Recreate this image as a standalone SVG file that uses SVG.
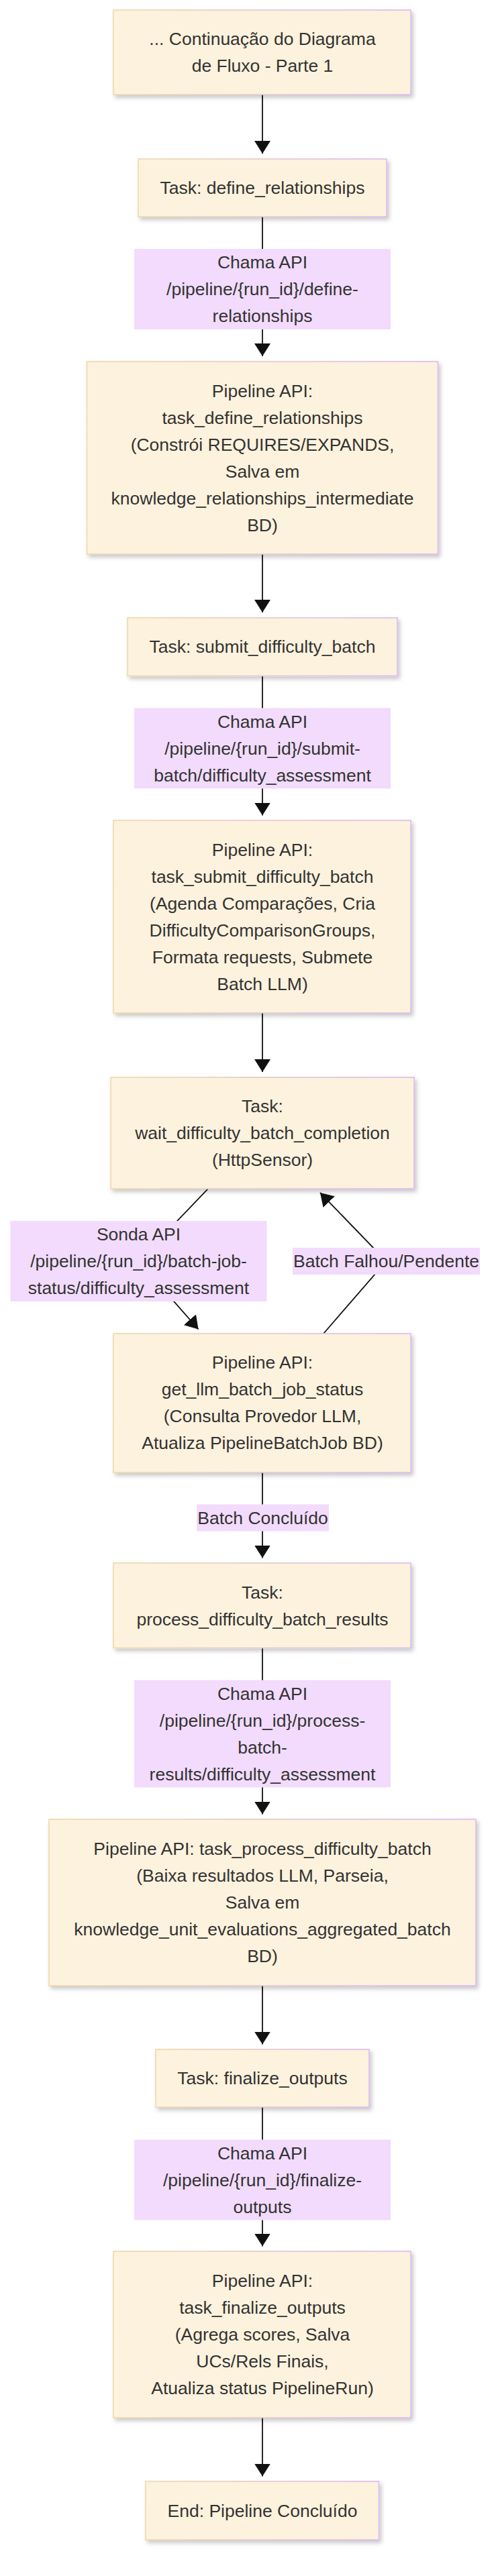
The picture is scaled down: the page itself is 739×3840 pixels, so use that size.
<svg xmlns="http://www.w3.org/2000/svg" width="739" height="3840" viewBox="0 0 739 3840">
<defs>
<linearGradient id="bd" x1="0" y1="0" x2="1" y2="0">
<stop offset="0" stop-color="#efd9a9"/>
<stop offset="1" stop-color="#dcb9f2"/>
</linearGradient>
<filter id="sh" x="-10%" y="-10%" width="125%" height="130%">
<feDropShadow dx="3" dy="4" stdDeviation="3" flood-color="#000" flood-opacity="0.22"/>
</filter>
<marker id="ah" markerUnits="userSpaceOnUse" markerWidth="20" markerHeight="24" viewBox="0 0 20 24" refX="19" refY="12" orient="auto">
<path d="M0,0 L19,12 L0,24 z" fill="#111"/>
</marker>
<style>
.node rect { fill:#fdf2dd; stroke:url(#bd); stroke-width:1.6; filter:url(#sh); }
.lbl rect { fill:#f2dbfc; }
text { font-family:"Liberation Sans", Arial, sans-serif; font-size:26.5px; fill:#333; text-anchor:middle; }
.edge { stroke:#111; stroke-width:1.8; fill:none; marker-end:url(#ah); }
</style>
</defs>
<rect width="739" height="3840" fill="#fff"/>

<g id="connectors">
<path class="edge" d="M391,141 L391,229"/>
<path class="edge" d="M391,323 L391,531"/>
<path class="edge" d="M391,826 L391,913"/>
<path class="edge" d="M391,1007.5 L391,1215.5"/>
<path class="edge" d="M391,1510 L391,1598"/>
<path class="edge" d="M310,1772 L206.5,1880 L295.5,1981.5"/>
<path class="edge" d="M482,1988 L575.5,1880 L477,1778"/>
<path class="edge" d="M391,2195 L391,2322.5"/>
<path class="edge" d="M391,2456.5 L391,2704.5"/>
<path class="edge" d="M391,2960 L391,3047.5"/>
<path class="edge" d="M391,3141 L391,3348.5"/>
<path class="edge" d="M391,3604 L391,3691.5"/>
</g>

<g id="edge-labels">
<g class="lbl" id="lbl-define">
<rect x="200" y="371" width="382" height="120"/>
<text x="391" y="400.3">Chama API</text>
<text x="391" y="440.3">/pipeline/{run_id}/define-</text>
<text x="391" y="480.3">relationships</text>
</g>
<g class="lbl" id="lbl-submit">
<rect x="200" y="1055.5" width="382" height="120"/>
<text x="391" y="1084.8">Chama API</text>
<text x="391" y="1124.8">/pipeline/{run_id}/submit-</text>
<text x="391" y="1164.8">batch/difficulty_assessment</text>
</g>
<g class="lbl" id="lbl-sonda">
<rect x="15.5" y="1820" width="382" height="120"/>
<text x="206.5" y="1849.3">Sonda API</text>
<text x="206.5" y="1889.3">/pipeline/{run_id}/batch-job-</text>
<text x="206.5" y="1929.3">status/difficulty_assessment</text>
</g>
<g class="lbl" id="lbl-falhou">
<rect x="436" y="1860" width="279" height="40"/>
<text x="575.5" y="1889.3">Batch Falhou/Pendente</text>
</g>
<g class="lbl" id="lbl-concluido">
<rect x="293" y="2242.5" width="197" height="40"/>
<text x="391.5" y="2271.8">Batch Concluído</text>
</g>
<g class="lbl" id="lbl-process">
<rect x="200" y="2504.5" width="382" height="160"/>
<text x="391" y="2533.8">Chama API</text>
<text x="391" y="2573.8">/pipeline/{run_id}/process-</text>
<text x="391" y="2613.8">batch-</text>
<text x="391" y="2653.8">results/difficulty_assessment</text>
</g>
<g class="lbl" id="lbl-finalize">
<rect x="200" y="3189.5" width="382" height="120"/>
<text x="391" y="3218.8">Chama API</text>
<text x="391" y="3258.8">/pipeline/{run_id}/finalize-</text>
<text x="391" y="3298.8">outputs</text>
</g>
</g>

<g class="node" id="start">
<rect x="169" y="15" width="443" height="126"/>
<text x="391" y="67.3">... Continuação do Diagrama</text>
<text x="391" y="107.3">de Fluxo - Parte 1</text>
</g>
<g class="node" id="task-define">
<rect x="206" y="237" width="370" height="86"/>
<text x="391" y="289.3">Task: define_relationships</text>
</g>
<g class="node" id="api-define">
<rect x="129.5" y="539" width="523" height="287"/>
<text x="391" y="591.8">Pipeline API:</text>
<text x="391" y="631.8">task_define_relationships</text>
<text x="391" y="671.8">(Constrói REQUIRES/EXPANDS,</text>
<text x="391" y="711.8">Salva em</text>
<text x="391" y="751.8">knowledge_relationships_intermediate</text>
<text x="391" y="791.8">BD)</text>
</g>
<g class="node" id="task-submit">
<rect x="190" y="921" width="402" height="86.5"/>
<text x="391" y="973.3">Task: submit_difficulty_batch</text>
</g>
<g class="node" id="api-submit">
<rect x="169" y="1223" width="443" height="287"/>
<text x="391" y="1275.8">Pipeline API:</text>
<text x="391" y="1315.8">task_submit_difficulty_batch</text>
<text x="391" y="1355.8">(Agenda Comparações, Cria</text>
<text x="391" y="1395.8">DifficultyComparisonGroups,</text>
<text x="391" y="1435.8">Formata requests, Submete</text>
<text x="391" y="1475.8">Batch LLM)</text>
</g>
<g class="node" id="task-wait">
<rect x="165" y="1606" width="452" height="166"/>
<text x="391" y="1658.3">Task:</text>
<text x="391" y="1698.3">wait_difficulty_batch_completion</text>
<text x="391" y="1738.3">(HttpSensor)</text>
</g>
<g class="node" id="api-status">
<rect x="169" y="1988" width="443" height="207"/>
<text x="391" y="2040.3">Pipeline API:</text>
<text x="391" y="2080.3">get_llm_batch_job_status</text>
<text x="391" y="2120.3">(Consulta Provedor LLM,</text>
<text x="391" y="2160.3">Atualiza PipelineBatchJob BD)</text>
</g>
<g class="node" id="task-process">
<rect x="169" y="2330" width="443" height="126.5"/>
<text x="391" y="2382.6">Task:</text>
<text x="391" y="2422.6">process_difficulty_batch_results</text>
</g>
<g class="node" id="api-process">
<rect x="73" y="2712" width="636" height="248"/>
<text x="391" y="2765.3">Pipeline API: task_process_difficulty_batch</text>
<text x="391" y="2805.3">(Baixa resultados LLM, Parseia,</text>
<text x="391" y="2845.3">Salva em</text>
<text x="391" y="2885.3">knowledge_unit_evaluations_aggregated_batch</text>
<text x="391" y="2925.3">BD)</text>
</g>
<g class="node" id="task-finalize">
<rect x="232" y="3055" width="318" height="86"/>
<text x="391" y="3107.3">Task: finalize_outputs</text>
</g>
<g class="node" id="api-finalize">
<rect x="169" y="3356" width="443" height="248"/>
<text x="391" y="3409.3">Pipeline API:</text>
<text x="391" y="3449.3">task_finalize_outputs</text>
<text x="391" y="3489.3">(Agrega scores, Salva</text>
<text x="391" y="3529.3">UCs/Rels Finais,</text>
<text x="391" y="3569.3">Atualiza status PipelineRun)</text>
</g>
<g class="node" id="end">
<rect x="217" y="3699" width="347.5" height="87"/>
<text x="391" y="3751.8">End: Pipeline Concluído</text>
</g>
</svg>
